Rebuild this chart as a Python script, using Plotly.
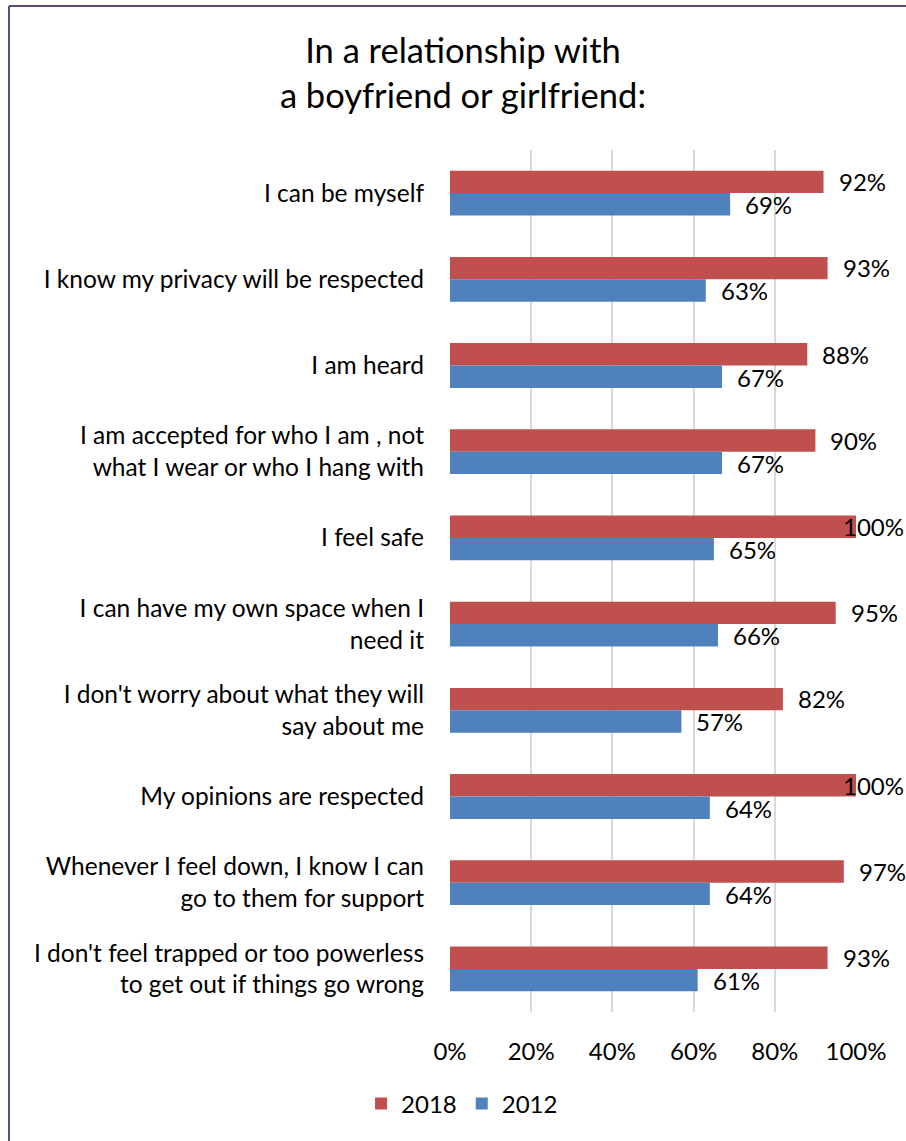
import plotly.graph_objects as go

categories = [
    "I can be myself",
    "I know my privacy will be respected",
    "I am heard",
    "I am accepted for who I am , not<br>what I wear or who I hang with",
    "I feel safe",
    "I can have my own space when I<br>need it",
    "I don't worry about what they will<br>say about me",
    "My opinions are respected",
    "Whenever I feel down, I know I can<br>go to them for support",
    "I don't feel trapped or too powerless<br>to get out if things go wrong",
]
values_2018 = [92, 93, 88, 90, 100, 95, 82, 100, 97, 93]
values_2012 = [69, 63, 67, 67, 65, 66, 57, 64, 64, 61]
tick_vals = [0, 20, 40, 60, 80, 100]
tick_text = ["0%", "20%", "40%", "60%", "80%", "100%"]

RED = "#c0504d"
BLUE = "#4f81bd"
FONT = "Lato"
LBL = 24

fig = go.Figure()
fig.add_trace(go.Bar(y=categories, x=values_2018, orientation="h", name="2018",
                     marker=dict(color=RED, line=dict(width=0))))
fig.add_trace(go.Bar(y=categories, x=values_2012, orientation="h", name="2012",
                     marker=dict(color=BLUE, line=dict(width=0))))

annotations = []
for series, shift in ((values_2018, 11.5), (values_2012, -11.5)):
    for cat, v in zip(categories, series):
        if v >= 99:
            annotations.append(dict(x=v, y=cat, xref="x", yref="y", text=f"{v}%",
                                    showarrow=False, xanchor="right", xshift=50,
                                    yshift=shift, font=dict(size=LBL, color="#000000", family=FONT)))
        else:
            annotations.append(dict(x=v, y=cat, xref="x", yref="y", text=f"{v}%",
                                    showarrow=False, xanchor="left", xshift=13,
                                    yshift=shift, font=dict(size=LBL, color="#000000", family=FONT)))

fig.update_layout(
    width=906, height=1141,
    margin=dict(l=450, r=50, t=150, b=129),
    paper_bgcolor="white", plot_bgcolor="white",
    barmode="group", bargap=0.48, bargroupgap=0,
    font=dict(family=FONT, size=24, color="#000000"),
    title=dict(text="In a relationship with<br>a boyfriend or girlfriend:",
               x=0.511, xanchor="center", y=1 - 63 / 1141, yanchor="middle",
               font=dict(size=34.5, family=FONT, color="#000000")),
    xaxis=dict(range=[0, 100], tickvals=tick_vals, ticktext=tick_text,
               showgrid=True, gridcolor="#d9d9d9", gridwidth=1.5,
               zeroline=False, showline=False, ticks="",
               ticklabelstandoff=23, tickfont=dict(size=24, family=FONT),
               fixedrange=True),
    yaxis=dict(autorange="reversed", showgrid=False, showline=False, ticks="",
               ticklabelstandoff=25, tickfont=dict(size=24.5, family=FONT)),
    legend=dict(orientation="h", xref="container", yref="container",
                x=0.51, xanchor="center", y=1 - 1104 / 1141, yanchor="middle",
                font=dict(size=24, family=FONT), itemwidth=30,
                traceorder="normal"),
    annotations=annotations,
)

# chart border (left and top)
fig.add_shape(type="line", xref="paper", yref="paper", x0=-441/406, x1=-441/406,
              y0=-129/862, y1=1 + 144/862, line=dict(color="#604a7b", width=2))
fig.add_shape(type="line", xref="paper", yref="paper", x0=-441/406, x1=1 + 50/406,
              y0=1 + 144/862, y1=1 + 144/862, line=dict(color="#604a7b", width=2))

fig.write_html("out.html")
